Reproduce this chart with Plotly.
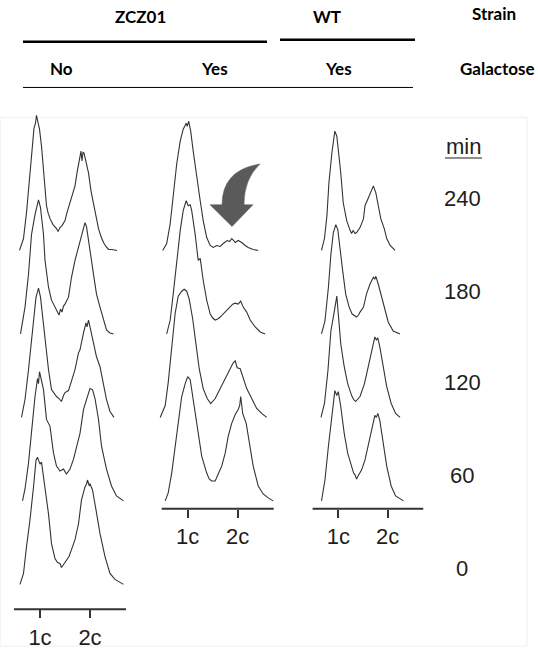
import plotly.graph_objects as go

W, H = 538, 650

# ---------------- data ----------------
# time points (min) of each histogram column, top to bottom
times_no = [240, 180, 120, 60, 0]
times_yes = [240, 180, 120, 60]
times_wt = [240, 180, 120, 60]

# DNA content channel (1c = 100, 2c = 200) and cell counts per histogram
# ZCZ01, no galactose
no_240_ch = [59, 67, 73, 80, 85, 88, 91, 93, 95, 99, 103, 107, 110, 113, 116, 120, 126, 133, 136, 140, 144, 150, 154, 160, 164, 170, 174, 180, 182, 184, 186, 188, 192, 197, 202, 207, 212, 217, 222, 227, 232, 237, 244, 254]
no_240_ct = [0, 12, 38, 78, 112, 123, 128, 136, 131, 122, 105, 80, 62, 45, 38, 32, 26, 22, 19, 23, 25, 30, 38, 48, 56, 65, 78, 95, 100, 90, 99, 98, 88, 78, 60, 48, 34, 22, 14, 8, 4, 1, 1, 0]
no_180_ch = [61, 70, 77, 83, 90, 94, 97, 101, 107, 110, 117, 123, 130, 134, 138, 141, 144, 147, 150, 157, 163, 170, 177, 183, 187, 190, 193, 195, 200, 207, 213, 220, 227, 233, 240, 247]
no_180_ct = [0, 27, 60, 100, 120, 128, 135, 127, 100, 74, 47, 34, 27, 22, 19, 25, 22, 28, 30, 37, 57, 74, 87, 100, 106, 112, 108, 100, 84, 60, 40, 27, 14, 4, 1, 0]
no_120_ch = [63, 70, 77, 81, 87, 92, 95, 97, 101, 107, 112, 117, 123, 128, 133, 138, 143, 147, 150, 157, 163, 170, 177, 180, 187, 192, 194, 197, 200, 207, 213, 220, 227, 233, 240, 248]
no_120_ct = [0, 18, 48, 68, 101, 121, 126, 130, 121, 95, 68, 48, 28, 24, 21, 19, 16, 22, 25, 27, 38, 48, 65, 68, 85, 95, 91, 98, 91, 75, 61, 51, 31, 18, 6, 0]
no_60_ch = [65, 70, 77, 83, 90, 95, 97, 99, 103, 107, 113, 120, 127, 133, 140, 147, 153, 160, 167, 173, 180, 187, 195, 198, 200, 205, 210, 217, 223, 233, 243, 253, 267]
no_60_ct = [0, 12, 38, 72, 105, 123, 118, 130, 122, 112, 82, 75, 48, 35, 30, 32, 27, 32, 42, 55, 68, 92, 107, 110, 113, 112, 103, 82, 55, 32, 15, 5, 0]
no_0_ch = [60, 67, 73, 80, 87, 92, 95, 97, 100, 103, 110, 117, 123, 130, 135, 140, 143, 147, 150, 153, 158, 163, 170, 177, 183, 190, 193, 195, 198, 200, 205, 212, 220, 230, 240, 250, 267]
no_0_ct = [0, 11, 38, 65, 98, 125, 128, 124, 121, 123, 98, 71, 41, 26, 22, 21, 17, 20, 23, 25, 28, 35, 45, 61, 85, 98, 101, 105, 100, 101, 95, 75, 51, 28, 11, 5, 0]

# ZCZ01, galactose
yes_240_ch = [50, 58, 65, 71, 78, 85, 91, 97, 99, 102, 106, 111, 118, 125, 131, 138, 145, 151, 158, 165, 171, 179, 184, 188, 192, 195, 201, 208, 215, 221, 231, 241]
yes_240_ct = [0, 7, 27, 57, 87, 110, 122, 128, 125, 130, 120, 100, 73, 50, 30, 13, 5, 3, 5, 4, 7, 10, 9, 12, 10, 8, 10, 8, 5, 3, 1, 0]
yes_180_ch = [58, 65, 71, 78, 85, 91, 97, 101, 105, 108, 115, 121, 125, 131, 138, 145, 150, 155, 160, 165, 175, 185, 190, 195, 201, 206, 211, 218, 225, 235, 245, 255]
yes_180_ct = [0, 14, 40, 74, 104, 124, 134, 129, 130, 124, 100, 74, 76, 54, 34, 20, 16, 14, 15, 17, 22, 28, 30, 31, 30, 33, 27, 22, 14, 7, 2, 0]
yes_120_ch = [45, 55, 61, 68, 75, 81, 88, 93, 98, 103, 110, 117, 123, 131, 139, 146, 150, 155, 160, 165, 175, 185, 191, 195, 199, 205, 211, 218, 228, 238, 248, 258]
yes_120_ct = [0, 12, 35, 72, 105, 122, 127, 129, 127, 119, 99, 72, 49, 29, 19, 14, 16, 19, 24, 29, 39, 49, 55, 57, 50, 49, 39, 29, 19, 9, 4, 0]
yes_60_ch = [55, 61, 68, 75, 81, 88, 95, 100, 105, 108, 115, 121, 128, 138, 143, 148, 155, 161, 168, 175, 181, 188, 195, 201, 204, 206, 210, 217, 223, 231, 241, 251, 261, 271]
yes_60_ct = [0, 8, 28, 55, 82, 105, 118, 125, 122, 112, 88, 65, 45, 28, 22, 20, 20, 27, 35, 48, 65, 78, 87, 92, 96, 105, 88, 78, 58, 35, 15, 7, 3, 0]

# WT, galactose
wt_240_ch = [66, 72, 77, 81, 87, 91, 93, 97, 100, 105, 110, 117, 124, 127, 130, 134, 137, 144, 151, 154, 161, 166, 171, 176, 181, 186, 193, 198, 205, 215]
wt_240_ct = [0, 12, 35, 68, 98, 115, 120, 115, 102, 78, 48, 30, 20, 17, 20, 17, 18, 23, 32, 45, 53, 60, 65, 58, 45, 32, 22, 12, 5, 0]
wt_180_ch = [66, 73, 80, 85, 90, 95, 99, 103, 109, 115, 122, 128, 133, 137, 141, 144, 151, 157, 164, 171, 174, 176, 181, 188, 195, 201, 211, 225]
wt_180_ct = [0, 13, 47, 80, 102, 110, 105, 87, 63, 40, 27, 20, 18, 17, 19, 22, 27, 40, 50, 57, 55, 58, 50, 37, 23, 12, 3, 0]
wt_120_ch = [65, 72, 79, 85, 92, 97, 100, 105, 112, 119, 127, 131, 135, 140, 144, 153, 161, 168, 174, 177, 180, 184, 191, 198, 207, 216, 225]
wt_120_ct = [0, 14, 47, 87, 107, 122, 104, 74, 51, 34, 22, 18, 16, 19, 21, 34, 51, 67, 81, 78, 80, 71, 51, 31, 14, 4, 0]
wt_60_ch = [66, 73, 80, 87, 93, 97, 100, 105, 112, 119, 127, 131, 134, 137, 140, 147, 154, 161, 168, 174, 177, 180, 184, 191, 198, 207, 216, 232]
wt_60_ct = [0, 21, 55, 88, 111, 106, 110, 95, 68, 48, 33, 28, 26, 22, 25, 31, 41, 58, 75, 86, 84, 88, 81, 58, 35, 15, 5, 0]

tick_vals = [100, 200]
tick_text = ["1c", "2c"]

strain_labels = ["ZCZ01", "WT", "Strain"]
galactose_labels = ["No", "Yes", "Yes", "Galactose"]
time_title = "min"
time_labels = ["240", "180", "120", "60", "0"]

# ---------------- layout helpers ----------------
def fx(px):
    return px / W


def fy(py):
    return 1 - py / H


BASE_Y = 62      # baseline of the 0-min histogram (pixels from bottom)
STEP = 84        # vertical offset per 60 min
LINE_COLOR = "#333333"
TEXT_COLOR = "#1e1e1e"

columns = [
    dict(times=times_no, data=[(no_240_ch, no_240_ct), (no_180_ch, no_180_ct), (no_120_ch, no_120_ct),
                               (no_60_ch, no_60_ct), (no_0_ch, no_0_ct)],
         c1_px=40.0, ppu=0.5, axis_py=613),
    dict(times=times_yes, data=[(yes_240_ch, yes_240_ct), (yes_180_ch, yes_180_ct), (yes_120_ch, yes_120_ct),
                                (yes_60_ch, yes_60_ct)],
         c1_px=187.7, ppu=0.5, axis_py=512),
    dict(times=times_wt, data=[(wt_240_ch, wt_240_ct), (wt_180_ch, wt_180_ct), (wt_120_ch, wt_120_ct),
                               (wt_60_ch, wt_60_ct)],
         c1_px=338.3, ppu=1 / 2.024, axis_py=512),
]

fig = go.Figure()
RLO, RHI = 40, 280

for i, col in enumerate(columns):
    ax = "x" if i == 0 else f"x{i + 1}"
    for t, (ch, ct) in zip(col["times"], col["data"]):
        off = BASE_Y + STEP * t / 60
        fig.add_trace(go.Scatter(
            x=ch, y=[off + v for v in ct], xaxis=ax, yaxis="y", mode="lines",
            line=dict(color=LINE_COLOR, width=1.1), hoverinfo="skip", showlegend=False))
    dom = [(col["c1_px"] + (RLO - 100) * col["ppu"]) / W, (col["c1_px"] + (RHI - 100) * col["ppu"]) / W]
    key = "xaxis" if i == 0 else f"xaxis{i + 1}"
    fig.layout[key] = dict(
        domain=dom, range=[RLO, RHI], anchor="free", position=fy(col["axis_py"]),
        showline=False, showgrid=False, zeroline=False, ticks="outside", ticklen=8, tickwidth=2,
        tickcolor=LINE_COLOR, tickmode="array", tickvals=tick_vals, ticktext=tick_text,
        tickfont=dict(family="Liberation Sans, Arial, sans-serif", size=22, color=TEXT_COLOR),
        fixedrange=True)
    fig.add_shape(type="line", xref=ax, yref="paper", x0=48, x1=272,
                  y0=fy(col["axis_py"]), y1=fy(col["axis_py"]),
                  line=dict(color=LINE_COLOR, width=2))

fig.update_layout(
    width=W, height=H, margin=dict(l=0, r=0, t=0, b=0),
    paper_bgcolor="white", plot_bgcolor="rgba(0,0,0,0)",
    yaxis=dict(domain=[0, 1], range=[0, H], visible=False, fixedrange=True),
    showlegend=False,
)

# faint panel frame
fig.add_shape(type="rect", xref="paper", yref="paper", x0=fx(0), x1=fx(527), y0=fy(650), y1=fy(118),
              line=dict(color="#eeeeee", width=1), layer="below")

# header lines
fig.add_shape(type="line", xref="paper", yref="paper", x0=fx(23), x1=fx(267), y0=fy(42), y1=fy(42),
              line=dict(color="black", width=2.5))
fig.add_shape(type="line", xref="paper", yref="paper", x0=fx(280), x1=fx(415), y0=fy(40), y1=fy(40),
              line=dict(color="black", width=2.5))
fig.add_shape(type="line", xref="paper", yref="paper", x0=fx(23), x1=fx(413), y0=fy(88), y1=fy(88),
              line=dict(color="black", width=1))

HEAD_FONT = dict(family="Lato, Open Sans, sans-serif", size=17, color="black")


def ann(text, px, py, font, xanchor="center"):
    fig.add_annotation(text=text, x=fx(px), y=fy(py), xref="paper", yref="paper",
                       showarrow=False, xanchor=xanchor, yanchor="middle", font=font)


ann("<b>%s</b>" % strain_labels[0], 140, 17, HEAD_FONT)
ann("<b>%s</b>" % strain_labels[1], 327, 17, HEAD_FONT)
ann("<b>%s</b>" % strain_labels[2], 470, 14, HEAD_FONT, "left")
ann("<b>%s</b>" % galactose_labels[0], 61, 69, HEAD_FONT)
ann("<b>%s</b>" % galactose_labels[1], 214, 69, HEAD_FONT)
ann("<b>%s</b>" % galactose_labels[2], 338, 69, HEAD_FONT)
ann("<b>%s</b>" % galactose_labels[3], 537, 69, HEAD_FONT, "right")

TIME_FONT = dict(family="Liberation Sans, Arial, sans-serif", size=22, color=TEXT_COLOR)
ann(time_title, 463, 147, TIME_FONT)
fig.add_shape(type="line", xref="paper", yref="paper", x0=fx(445), x1=fx(482), y0=fy(159), y1=fy(159),
              line=dict(color=TEXT_COLOR, width=1.2))
for lbl, py in zip(time_labels, [200, 293, 385, 478, 572]):
    ann(lbl, 462, py, TIME_FONT)

# curved arrow pointing at the missing 2c peak
pts = [(210, 206), (222, 206), (222, 171), (260, 165), (244, 180), (244, 206), (253, 206), (232, 228)]
p = [(fx(a), fy(b)) for a, b in pts]
path = ("M {0[0]},{0[1]} L {1[0]},{1[1]} Q {2[0]},{2[1]} {3[0]},{3[1]} "
        "Q {4[0]},{4[1]} {5[0]},{5[1]} L {6[0]},{6[1]} L {7[0]},{7[1]} Z").format(*p)
fig.add_shape(type="path", xref="paper", yref="paper", path=path,
              fillcolor="#5a5a5a", line=dict(color="#5a5a5a", width=0.5))

fig.write_html("out.html", config={"displayModeBar": False},
               post_script="document.body.style.margin='0';document.body.style.overflow='hidden';")
